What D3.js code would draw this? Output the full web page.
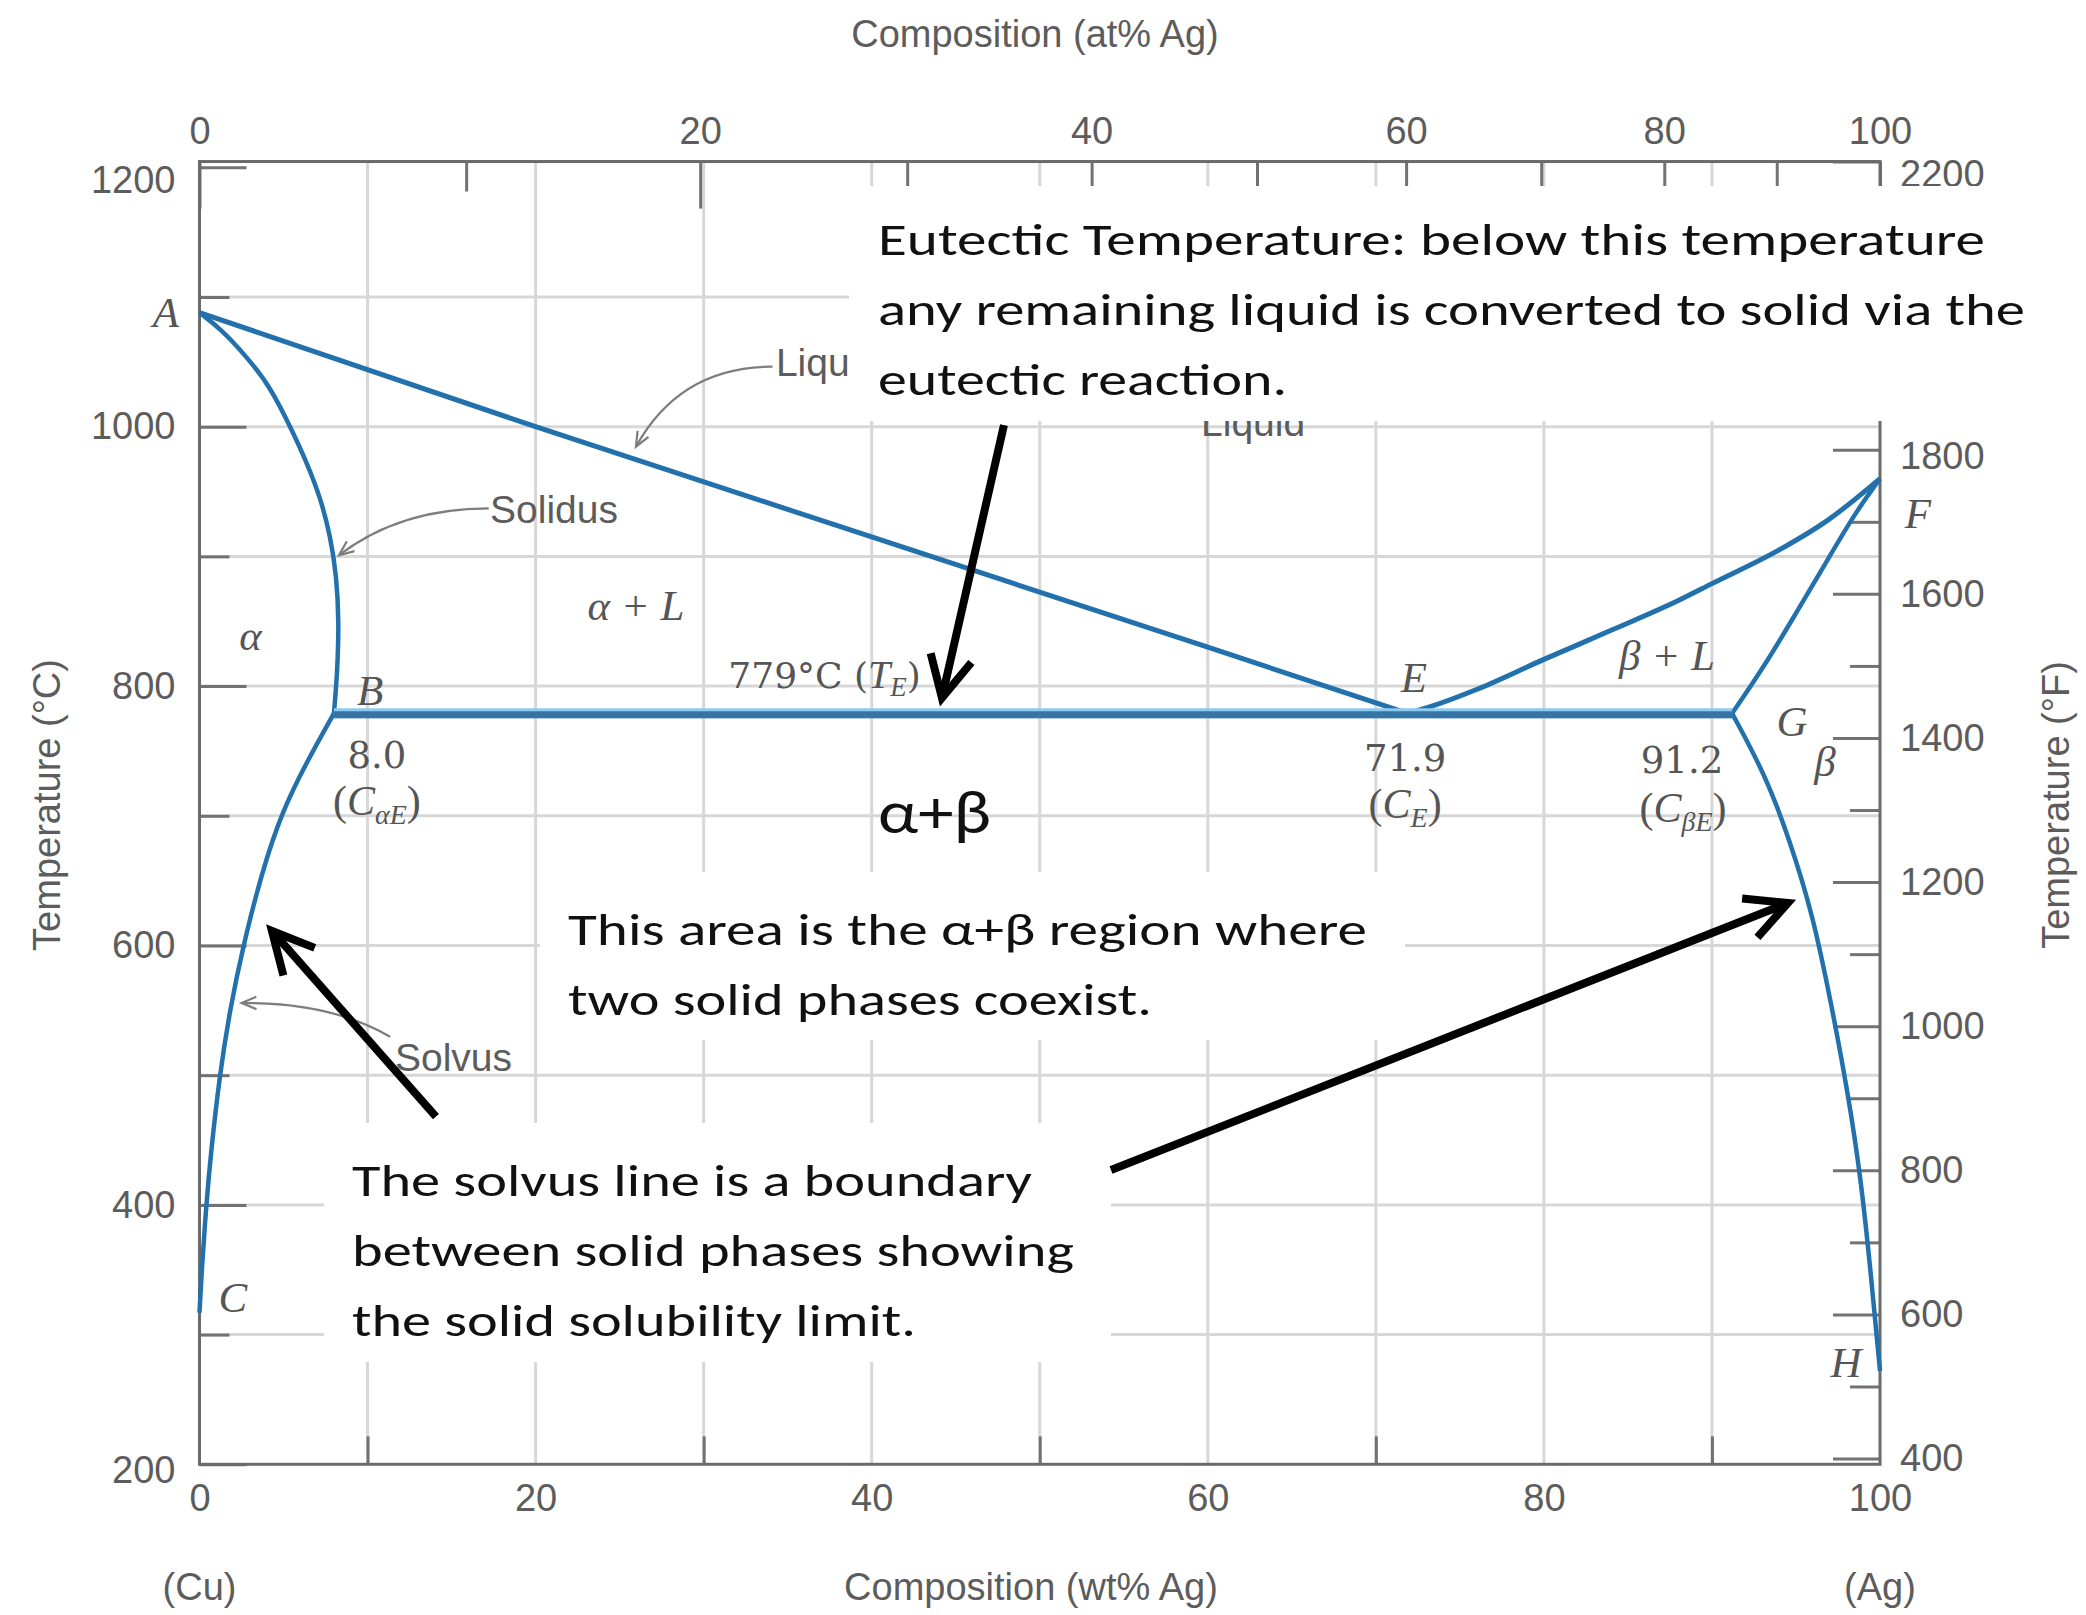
<!DOCTYPE html>
<html><head><meta charset="utf-8">
<script src="https://cdn.jsdelivr.net/npm/d3@7"></script>
<style>body{margin:0;background:#fff}</style>
</head><body>
<svg id="c" width="2086" height="1615"></svg>
<script>
// ---------------- data ----------------
const wtLabelTicks = [0, 20, 40, 60, 80, 100];
const wtMinorTicks = [10, 30, 50, 70, 90];
const wtGrid = [10, 20, 30, 40, 50, 60, 70, 80, 90];
const atLabelTicks = [0, 20, 40, 60, 80, 100];
const atMinorTicks = [10, 30, 50, 70, 90];
const cLabelTicks = [200, 400, 600, 800, 1000, 1200];
const cMinorTicks = [300, 500, 700, 900, 1100];
const cGrid = [300, 400, 500, 600, 700, 800, 900, 1000, 1100];
const fLabelTicks = [400, 600, 800, 1000, 1200, 1400, 1600, 1800, 2000, 2200];
const fMinorTicks = [500, 700, 900, 1100, 1300, 1500, 1700, 1900, 2100];

// phase boundaries: [wt% Ag, °C]
const liquidusAlpha = [[0, 1088], [20, 1000], [40, 915], [60, 830], [71.9, 779]];
const solidusAlpha = [[0, 1088], [1.3, 1075], [2.8, 1054], [4.2, 1031], [5.4, 1000], [6.4, 972], [7.2, 945], [7.8, 915], [8.15, 885], [8.3, 850], [8.2, 810], [8.0, 779]];
const solvusAlpha = [[8.0, 779], [6.4, 742], [4.9, 703], [3.7, 656], [2.6, 600], [1.8, 550], [1.2, 500], [0.7, 443], [0.4, 400], [0.13, 349], [0, 317]];
const eutectic = [[8.0, 779], [91.2, 779]];
const liquidusBeta = [[71.9, 779], [73.2, 784], [76.1, 798], [79.9, 820], [84, 843], [88, 866], [90, 879], [94, 905], [96.9, 928], [100, 960]];
const solidusBeta = [[91.2, 779], [93, 813], [95, 856], [97, 900], [98.5, 933], [100, 960]];
const solvusBeta = [[91.2, 779], [93.2, 731], [94.6, 682], [96, 624], [97.1, 555], [98.1, 486], [98.9, 417], [99.5, 341], [100, 272]];

// ---------------- scales ----------------
const svg = d3.select('#c');
const x = d3.scaleLinear().domain([0, 100]).range([199.5, 1880]);
const y = d3.scaleLinear().domain([200, 1200]).range([1464.3, 167.3]);
const f2c = f => (f - 32) * 5 / 9;
const yF = d3.scaleLinear().domain([400, 2200]).range([y(f2c(400)), y(f2c(2200))]);
const at2wt = a => 100 * a * 107.87 / (a * 107.87 + (100 - a) * 63.55);
const atAll = d3.range(0, 101, 10);
const xAt = d3.scaleLinear().domain(atAll).range(atAll.map(a => x(at2wt(a))));
const P = (w, t) => [x(w), y(t)];
const fmt = d3.format('d');

const topY = yF(2200), botY = y(200);
const SANS = '"Liberation Sans", Arial, sans-serif';
const SERIF = '"Liberation Serif", "Times New Roman", serif';
const NUMSERIF = '"DejaVu Serif", serif';
const NOTE = 'Carlito, Lato, "Open Sans", "Noto Sans", sans-serif';
const GRAY = '#5c5c5c';

// ---------------- grid ----------------
const grid = svg.append('g');
grid.selectAll('.gh').data(cGrid).join('line')
  .attr('x1', x(0)).attr('x2', x(100)).attr('y1', d => y(d)).attr('y2', d => y(d))
  .attr('stroke', '#d7d7d7').attr('stroke-width', 3);
grid.selectAll('.gv').data(wtGrid).join('line')
  .attr('y1', topY).attr('y2', botY).attr('x1', d => x(d)).attr('x2', d => x(d))
  .attr('stroke', '#d7d7d7').attr('stroke-width', 3);

// ---------------- axes ----------------
function style(g) {
  g.attr('font-size', null).attr('font-family', null);
  g.select('.domain').remove();
  g.selectAll('.tick line').attr('stroke', '#727272').attr('stroke-width', 3);
  g.selectAll('.tick text').attr('fill', GRAY).style('font-family', SANS).style('font-size', '38px');
  return g;
}
const gl1 = svg.append('g').attr('transform', `translate(${x(0)},0)`)
  .call(d3.axisLeft(y).tickValues(cLabelTicks).tickFormat(fmt).tickSize(-47).tickPadding(24));
style(gl1);
gl1.selectAll('.tick text').filter(d => d === 1200).attr('dy', '0.65em');
gl1.selectAll('.tick text').filter(d => d === 200).attr('dy', '0.48em');
style(svg.append('g').attr('transform', `translate(${x(0)},0)`)
  .call(d3.axisLeft(y).tickValues(cMinorTicks).tickSize(-30).tickFormat('')));

const gr1 = svg.append('g').attr('transform', `translate(${x(100)},0)`)
  .call(d3.axisRight(yF).tickValues(fLabelTicks).tickFormat(fmt).tickSize(-47).tickPadding(20));
style(gr1);
gr1.selectAll('.tick text').filter(d => d === 2200).attr('dy', '0.65em');
gr1.selectAll('.tick text').filter(d => d === 1800).attr('dy', '0.5em');
style(svg.append('g').attr('transform', `translate(${x(100)},0)`)
  .call(d3.axisRight(yF).tickValues(fMinorTicks).tickSize(-30).tickFormat('')));

style(svg.append('g').attr('transform', `translate(0,${topY})`)
  .call(d3.axisTop(xAt).tickValues(atLabelTicks).tickFormat(fmt).tickSize(-47).tickPadding(18)));
style(svg.append('g').attr('transform', `translate(0,${topY})`)
  .call(d3.axisTop(xAt).tickValues(atMinorTicks).tickSize(-30).tickFormat('')));

style(svg.append('g').attr('transform', `translate(0,${botY})`)
  .call(d3.axisBottom(x).tickValues(wtLabelTicks).tickFormat(fmt).tickSize(0).tickPadding(20)));
style(svg.append('g').attr('transform', `translate(0,${botY})`)
  .call(d3.axisBottom(x).tickValues(wtMinorTicks).tickSize(-28).tickFormat('')));

// frame
svg.append('rect').attr('x', x(0)).attr('y', topY).attr('width', x(100) - x(0)).attr('height', botY - topY)
  .attr('fill', 'none').attr('stroke', '#6a6a6a').attr('stroke-width', 3);

// axis titles
const titles = svg.append('g').attr('fill', GRAY).style('font-family', SANS).style('font-size', '38px');
titles.append('text').attr('x', 1035).attr('y', 47).attr('text-anchor', 'middle').text('Composition (at% Ag)');
titles.append('text').attr('x', 1031).attr('y', 1600).attr('text-anchor', 'middle').text('Composition (wt% Ag)');
titles.append('text').attr('x', x(0)).attr('y', 1600).attr('text-anchor', 'middle').text('(Cu)');
titles.append('text').attr('x', x(100)).attr('y', 1600).attr('text-anchor', 'middle').text('(Ag)');
titles.append('text').attr('transform', 'translate(60,805) rotate(-90)').attr('text-anchor', 'middle').text('Temperature (°C)');
titles.append('text').attr('transform', 'translate(2069,805) rotate(-90)').attr('text-anchor', 'middle').text('Temperature (°F)');

// ---------------- phase boundaries ----------------
const BLUE = '#2271ad';
const lineB = d3.line().x(d => x(d[0])).y(d => y(d[1])).curve(d3.curveBasis);
const lineX = d3.line().x(d => x(d[0])).y(d => y(d[1])).curve(d3.curveMonotoneX);
const straight = d3.line().x(d => x(d[0])).y(d => y(d[1]));
const lines = svg.append('g').attr('fill', 'none').attr('stroke', BLUE).attr('stroke-linejoin', 'round');
lines.append('path').attr('d', straight(liquidusAlpha)).attr('stroke-width', 5);
lines.append('path').attr('d', lineB(solidusAlpha)).attr('stroke-width', 4.5);
lines.append('path').attr('d', lineB(solvusAlpha)).attr('stroke-width', 4.5);
lines.append('path').attr('d', lineX(liquidusBeta)).attr('stroke-width', 5);
lines.append('path').attr('d', lineB(solidusBeta)).attr('stroke-width', 4.5);
lines.append('path').attr('d', lineB(solvusBeta)).attr('stroke-width', 4.5);
lines.append('path').attr('d', straight(eutectic)).attr('stroke', '#8ccbf0').attr('stroke-width', 10);
lines.append('path').attr('d', straight(eutectic)).attr('transform', 'translate(0,1.5)').attr('stroke', '#3774a6').attr('stroke-width', 7);

// ---------------- figure labels ----------------
const lab = svg.append('g').attr('fill', '#555');
const italicLabels = [
  {t: 'A', w: -2.0, T: 1077}, {t: 'B', w: 10.15, T: 785.6}, {t: 'C', w: 1.99, T: 317.4},
  {t: 'E', w: 72.27, T: 795.4}, {t: 'F', w: 102.26, T: 922}, {t: 'G', w: 94.76, T: 761.6},
  {t: 'H', w: 97.98, T: 267.4}, {t: 'α', w: 3.03, T: 827.8}, {t: 'β', w: 96.73, T: 731},
  {t: 'α + L', w: 25.97, T: 851}, {t: 'β + L', w: 87.32, T: 812.6}
];
lab.selectAll('.il').data(italicLabels).join('text')
  .attr('x', d => x(d.w)).attr('y', d => y(d.T)).attr('text-anchor', 'middle')
  .style('font-family', SERIF).style('font-style', 'italic').style('font-size', '43px')
  .text(d => d.t);

const numLabels = [
  {t: '8.0', w: 10.56, T: 736.9}, {t: '71.9', w: 71.74, T: 734.5}, {t: '91.2', w: 88.22, T: 733}
];
lab.selectAll('.nl').data(numLabels).join('text')
  .attr('x', d => x(d.w)).attr('y', d => y(d.T)).attr('text-anchor', 'middle')
  .style('font-family', NUMSERIF).style('font-size', '37px').text(d => d.t);

const subLabels = [
  {sub: 'αE', w: 10.56, T: 700.7}, {sub: 'E', w: 71.74, T: 698.2}, {sub: 'βE', w: 88.28, T: 695.1}
];
subLabels.forEach(d => {
  const t = lab.append('text').attr('x', x(d.w)).attr('y', y(d.T)).attr('text-anchor', 'middle')
    .style('font-family', SERIF).style('font-size', '42px');
  t.append('tspan').text('(');
  t.append('tspan').style('font-style', 'italic').text('C');
  t.append('tspan').style('font-style', 'italic').style('font-size', '28px').attr('dy', 9).text(d.sub);
  t.append('tspan').attr('dy', -9).text(')');
});
{
  const t = lab.append('text').attr('x', x(37.2)).attr('y', y(798.6)).attr('text-anchor', 'middle')
    .style('font-family', NUMSERIF).style('font-size', '36px');
  t.append('tspan').text('779°C (');
  t.append('tspan').style('font-family', SERIF).style('font-style', 'italic').style('font-size', '40px').text('T');
  t.append('tspan').style('font-family', SERIF).style('font-style', 'italic').style('font-size', '27px').attr('dy', 8).text('E');
  t.append('tspan').attr('dy', -8).text(')');
}

// gray sans labels
const sansLabels = [
  {t: 'Liqu', w: 34.3, T: 1039}, {t: 'Solidus', w: 17.29, T: 925.9},
  {t: 'Solvus', w: 11.63, T: 503.3}, {t: 'Liquid', w: 59.6, T: 992.5}
];
svg.append('g').attr('fill', GRAY).selectAll('text').data(sansLabels).join('text')
  .attr('x', d => x(d.w)).attr('y', d => y(d.T))
  .style('font-family', SANS).style('font-size', '39px').text(d => d.t);

// gray pointer curves: start, control, tip
const pointers = [
  {s: [34.1, 1046.3], c: [28.6, 1046.3], e: [25.97, 984.6]},
  {s: [17.21, 937.1], c: [11.93, 937.1], e: [8.30, 900.9]},
  {s: [11.34, 529.7], c: [7.77, 556.4], e: [2.51, 555.6]}
];
const pg = svg.append('g').attr('fill', 'none').attr('stroke', '#7d7d7d').attr('stroke-width', 2.2);
pointers.forEach(p => {
  const [sx, sy] = P(...p.s), [cx, cy] = P(...p.c), [ex, ey] = P(...p.e);
  pg.append('path').attr('d', `M${sx},${sy}Q${cx},${cy} ${ex},${ey}`);
  const a = Math.atan2(cy - ey, cx - ex), L = 16, th = 0.4;
  pg.append('path').attr('d', `M${ex + L * Math.cos(a + th)},${ey + L * Math.sin(a + th)}L${ex},${ey}L${ex + L * Math.cos(a - th)},${ey + L * Math.sin(a - th)}`);
});

// ---------------- callout boxes ----------------
const boxes = [
  {x0: 849, y0: 186, x1: 2050, y1: 421},
  {x0: 540, y0: 872, x1: 1405, y1: 1040},
  {x0: 324, y0: 1123, x1: 1111, y1: 1362}
];
svg.append('g').selectAll('rect').data(boxes).join('rect')
  .attr('x', d => d.x0).attr('y', d => d.y0).attr('width', d => d.x1 - d.x0).attr('height', d => d.y1 - d.y0)
  .attr('fill', '#fff');

// black arrows: from, to (data coords)
const arrows = [
  {from: [47.87, 1001.3], to: [44.18, 790.9]},
  {from: [14.07, 468.0], to: [4.31, 611.2]},
  {from: [54.24, 426.9], to: [94.52, 632.8]}
];
const ag = svg.append('g').attr('fill', 'none').attr('stroke', '#000').attr('stroke-width', 8).attr('stroke-linejoin', 'miter');
arrows.forEach(a => {
  const [x1, y1] = P(...a.from), [x2, y2] = P(...a.to);
  const ang = Math.atan2(y1 - y2, x1 - x2), L = 46, th = 27 * Math.PI / 180;
  ag.append('path').attr('d', `M${x1},${y1}L${x2},${y2}`);
  ag.append('path').attr('d', `M${x2 + L * Math.cos(ang + th)},${y2 + L * Math.sin(ang + th)}L${x2},${y2}L${x2 + L * Math.cos(ang - th)},${y2 + L * Math.sin(ang - th)}`);
});

// callout text
const notes = [
  {t: 'Eutectic Temperature: below this temperature', x: 878, y: 255, w: 1107},
  {t: 'any remaining liquid is converted to solid via the', x: 878, y: 325, w: 1147},
  {t: 'eutectic reaction.', x: 878, y: 395, w: 409},
  {t: 'This area is the α+β region where', x: 568, y: 945, w: 799},
  {t: 'two solid phases coexist.', x: 568, y: 1015, w: 584},
  {t: 'The solvus line is a boundary', x: 352, y: 1196, w: 680},
  {t: 'between solid phases showing', x: 352, y: 1266, w: 722},
  {t: 'the solid solubility limit.', x: 352, y: 1336, w: 564}
];
svg.append('g').attr('fill', '#111').selectAll('text').data(notes).join('text')
  .attr('x', d => d.x).attr('y', d => d.y).attr('textLength', d => d.w).attr('lengthAdjust', 'spacingAndGlyphs')
  .style('font-family', NOTE).style('font-size', '46px').text(d => d.t);
svg.append('text').attr('x', 878).attr('y', 833).attr('textLength', 113).attr('lengthAdjust', 'spacingAndGlyphs')
  .attr('fill', '#111').style('font-family', NOTE).style('font-size', '62px').text('α+β');
</script>
</body></html>
